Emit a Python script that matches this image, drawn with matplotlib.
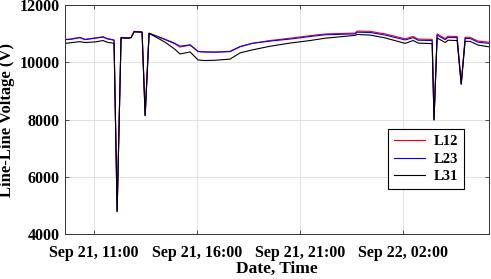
import matplotlib
matplotlib.use("Agg")
import matplotlib.pyplot as plt
import matplotlib.dates as mdates
import pandas as pd

# hours since Sep 21 00:00
hours = [9.59, 9.84, 10.32, 10.56, 11.05, 11.44, 11.63, 11.97, 12.12, 12.31,
         12.65, 12.80, 12.94, 13.33, 13.48, 13.67, 14.45, 14.93, 15.17, 15.66,
         16.05, 16.39, 16.87, 17.60, 18.09, 18.67, 19.54, 20.51, 21.49, 22.21,
         23.67, 23.77, 24.40, 25.13, 26.10, 26.49, 26.73, 27.41, 27.50, 27.65,
         28.04, 28.18, 28.62, 28.82, 29.01, 29.25, 29.64, 30.17]

l12 = [10800, 10810, 10870, 10800, 10850, 10890, 10830, 10780, 4800, 10870,
       10850, 10870, 11080, 11060, 8150, 11020, 10790, 10640, 10530, 10600,
       10370, 10360, 10360, 10370, 10540, 10660, 10760, 10840, 10930, 10990,
       11020, 11090, 11080, 10990, 10820, 10900, 10810, 10800, 8000, 10990,
       10830, 10910, 10900, 9250, 10870, 10870, 10740, 10700]

l23 = [10790, 10800, 10860, 10790, 10840, 10880, 10820, 10770, 4800, 10860,
       10840, 10860, 11070, 11050, 8150, 11010, 10800, 10660, 10560, 10610,
       10380, 10360, 10350, 10380, 10550, 10660, 10740, 10810, 10900, 10960,
       10990, 11050, 11040, 10950, 10780, 10860, 10770, 10760, 8000, 10950,
       10790, 10870, 10860, 9250, 10830, 10830, 10700, 10660]

l31 = [10660, 10680, 10720, 10690, 10710, 10760, 10700, 10660, 4780, 10850,
       10840, 10860, 11060, 11050, 8130, 11010, 10700, 10450, 10290, 10360,
       10080, 10060, 10070, 10110, 10330, 10430, 10560, 10670, 10760, 10840,
       10940, 10970, 10950, 10850, 10660, 10760, 10670, 10650, 7980, 10850,
       10690, 10770, 10760, 9230, 10730, 10730, 10600, 10540]

start = pd.Timestamp("2021-09-21 00:00")
t = start + pd.to_timedelta(hours, unit="h")
tick_times = [start + pd.Timedelta(hours=h) for h in [11, 16, 21, 26]]

plt.rcParams['font.family'] = ['Liberation Serif', 'DejaVu Serif']
plt.rcParams['font.weight'] = 'bold'

fig = plt.figure(figsize=(4.91, 2.79), dpi=100)
ax = fig.add_axes([0.1324, 0.1613, 0.8636, 0.8207])

ax.plot(t, l12, color='red', lw=0.8, label='L12')
ax.plot(t, l23, color='blue', lw=0.8, label='L23')
ax.plot(t, l31, color='black', lw=0.8, label='L31')

ax.set_xlim(start + pd.Timedelta(hours=9.59), start + pd.Timedelta(hours=30.17))
ax.set_ylim(4000, 12000)
ax.set_yticks([4000, 6000, 8000, 10000, 12000])
ax.set_xticks(tick_times)
ax.xaxis.set_major_formatter(mdates.DateFormatter('%b %d, %H:%M'))

ax.grid(True, color='#dddddd', lw=0.6)
ax.tick_params(direction='in', top=True, right=True, labelsize=11.5,
               color='#333333', length=3, width=0.6)
ax.tick_params(axis='x', pad=8)
ax.tick_params(axis='y', pad=4)
for lab in ax.get_xticklabels() + ax.get_yticklabels():
    lab.set_fontweight('bold')
for s in ax.spines.values():
    s.set_color('#333333')
    s.set_linewidth(0.7)

ax.set_xlabel('Date, Time', fontsize=12.5, fontweight='bold', labelpad=0)
ax.set_ylabel('Line-Line Voltage (V)', fontsize=12, fontweight='bold', labelpad=3)

leg = ax.legend(loc='lower right', bbox_to_anchor=(0.941, 0.196), fontsize=10.5,
                fancybox=False, framealpha=1, edgecolor='black',
                handlelength=2.1, handletextpad=0.6, borderpad=0.4,
                labelspacing=0.3, borderaxespad=0)
leg.get_frame().set_linewidth(0.8)
for txt in leg.get_texts():
    txt.set_fontweight('bold')

fig.savefig('out.png', dpi=100)
